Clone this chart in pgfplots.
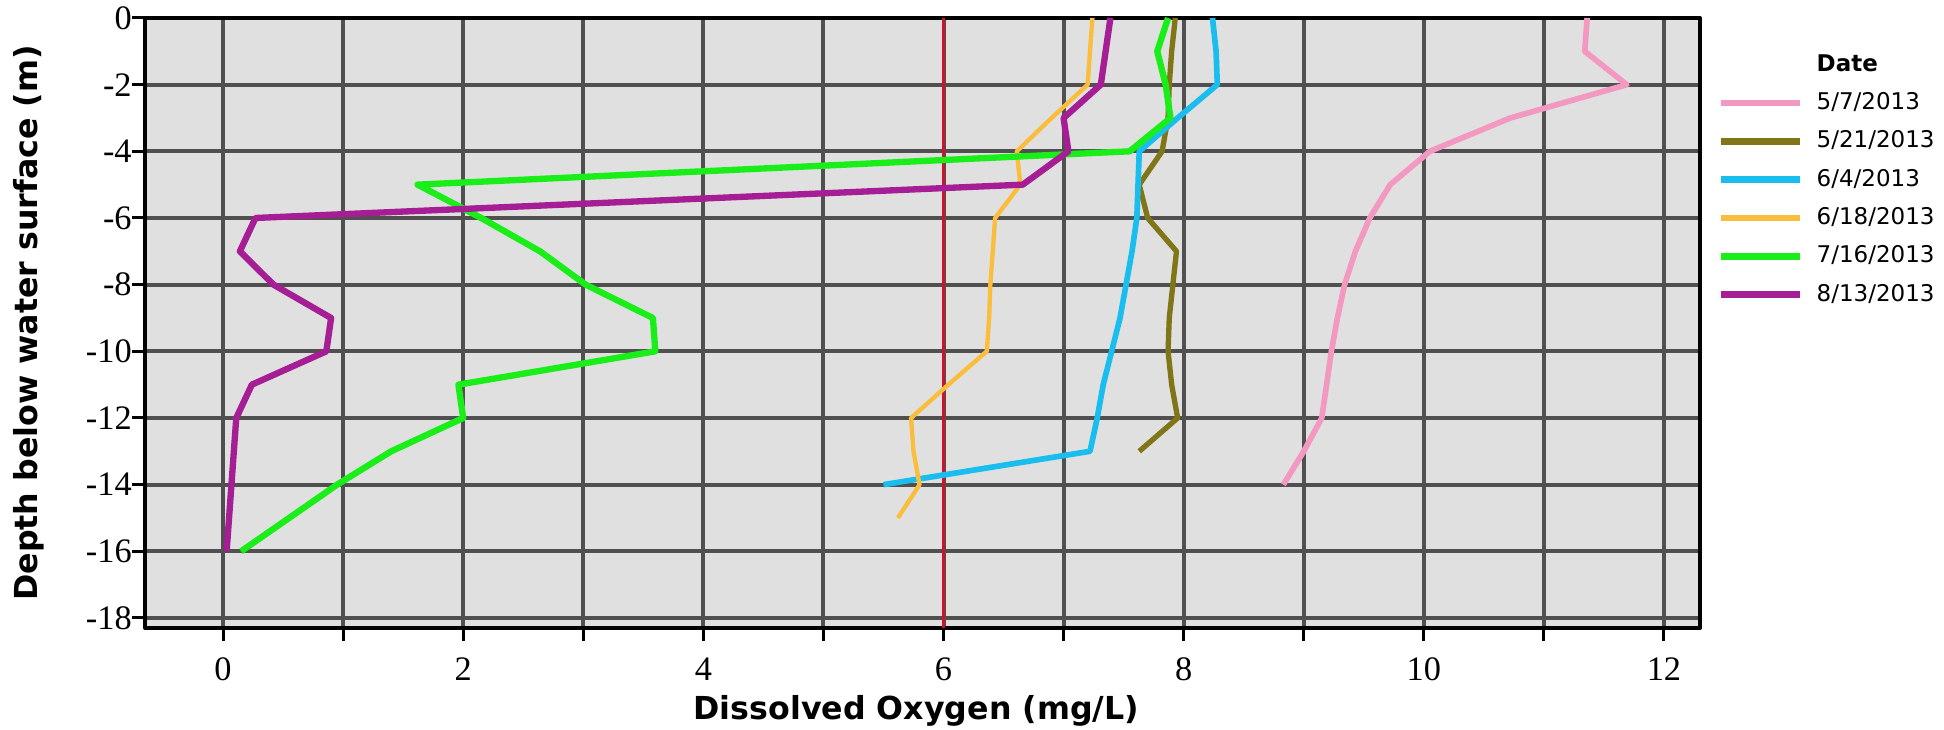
\documentclass[border=0pt]{standalone}
\usepackage{pgfplots}
\pgfplotsset{compat=1.18}
\usepackage{fontspec}
\setmainfont{DejaVu Sans}
\newfontfamily\tickfont{Liberation Serif}

\definecolor{plotbg}{RGB}{224,224,224}
\definecolor{gridc}{RGB}{80,80,80}
\definecolor{refred}{RGB}{205,20,45}
\definecolor{cpink}{RGB}{243,152,193}
\definecolor{colive}{RGB}{128,118,24}
\definecolor{cblue}{RGB}{25,190,238}
\definecolor{corange}{RGB}{250,190,60}
\definecolor{cgreen}{RGB}{25,238,25}
\definecolor{cpurple}{RGB}{165,30,150}

\begin{document}
\begin{tikzpicture}
\useasboundingbox (0,0) rectangle (583.2pt,219pt);
\begin{axis}[
  at={(43.5pt,30.6pt)}, anchor=south west,
  scale only axis, width=466.5pt, height=183pt,
  xmin=-0.65, xmax=12.3, ymin=-18.3, ymax=0,
  xtick={0,2,...,12}, minor xtick={1,3,...,11},
  ytick={-18,-16,...,0},
  tick pos=left,
  grid=both,
  major grid style={draw=gridc, line width=1.2pt},
  minor grid style={draw=gridc, line width=1.2pt},
  tick align=outside,
  major tick length=3.8pt, minor tick length=3.8pt,
  every tick/.style={black, line width=0.9pt},
  axis line style={black, line width=1.2pt},
  axis background/.style={fill=plotbg},
  /pgf/number format/assume math mode=true,
  tick label style={font=\tickfont\fontsize{10.3}{12}\selectfont, inner sep=0pt},
  xticklabel style={anchor=north, yshift=-5pt},
  yticklabel style={anchor=east},
  xlabel={Dissolved Oxygen (mg/L)},
  ylabel={Depth below water surface (m)},
  xlabel style={at={(axis description cs:0.496,0)}, anchor=base, yshift=-27.6pt,
    font=\bfseries\fontsize{9.5}{11}\selectfont},
  ylabel style={at={(axis description cs:-0.0746,0.5)}, anchor=center,
    font=\bfseries\fontsize{9.5}{11}\selectfont},
  legend style={at={(1.0116,0.942)}, anchor=north west, draw=none, fill=none,
    inner sep=0pt, outer sep=0pt, row sep=4.7pt, column sep=3.9pt,
    font=\fontsize{6.9}{8}\selectfont,
    nodes={inner sep=0pt, text height=5.3pt, text depth=1.5pt}},
  legend cell align=left,
  legend image code/.code={\draw[#1, line width=2pt] (0pt,0pt) -- (23.7pt,0pt);},
  line join=round,
]
% 6 mg/L reference line
\addplot[refred, line width=0.9pt, forget plot] coordinates {(6,-18.3) (6,0)};

\addlegendimage{empty legend}
\addlegendentry{\textbf{Date}}

% 5/7/2013
\addplot[cpink, line width=1.7pt] coordinates {
(11.36,0) (11.34,-1) (11.69,-2) (10.72,-3) (10.05,-4) (9.72,-5) (9.55,-6)
(9.43,-7) (9.34,-8) (9.28,-9) (9.23,-10) (9.19,-11) (9.15,-12) (9.0,-13) (8.83,-14)};
\addlegendentry{5/7/2013}

% 5/21/2013
\addplot[colive, line width=1.6pt] coordinates {
(7.93,0) (7.9,-1) (7.88,-2) (7.87,-3) (7.82,-4) (7.63,-5) (7.7,-6) (7.94,-7)
(7.91,-8) (7.88,-9) (7.87,-10) (7.9,-11) (7.95,-12) (7.63,-13)};
\addlegendentry{5/21/2013}

% 6/4/2013
\addplot[cblue, line width=1.7pt] coordinates {
(8.24,0) (8.27,-1) (8.28,-2) (7.95,-3) (7.63,-4) (7.62,-5) (7.61,-6) (7.57,-7)
(7.52,-8) (7.47,-9) (7.4,-10) (7.33,-11) (7.28,-12) (7.22,-13) (5.5,-14)};
\addlegendentry{6/4/2013}

% 6/18/2013
\addplot[corange, line width=1.3pt] coordinates {
(7.24,0) (7.22,-1) (7.2,-2) (6.9,-3) (6.61,-4) (6.64,-5) (6.43,-6) (6.41,-7)
(6.39,-8) (6.38,-9) (6.36,-10) (6.04,-11) (5.73,-12) (5.75,-13) (5.8,-14) (5.62,-15)};
\addlegendentry{6/18/2013}

% 7/16/2013
\addplot[cgreen, line width=1.9pt] coordinates {
(7.87,0) (7.78,-1) (7.85,-2) (7.89,-3) (7.55,-4) (1.62,-5) (2.15,-6) (2.64,-7)
(3.02,-8) (3.58,-9) (3.6,-10) (1.96,-11) (2.0,-12) (1.4,-13) (0.95,-14) (0.55,-15) (0.15,-16)};
\addlegendentry{7/16/2013}

% 8/13/2013
\addplot[cpurple, line width=1.9pt] coordinates {
(7.39,0) (7.35,-1) (7.31,-2) (7.0,-3) (7.04,-4) (6.66,-5) (0.27,-6) (0.14,-7)
(0.42,-8) (0.9,-9) (0.86,-10) (0.24,-11) (0.11,-12) (0.09,-13) (0.07,-14) (0.05,-15) (0.03,-16)};
\addlegendentry{8/13/2013}
\end{axis}
\end{tikzpicture}
\end{document}
